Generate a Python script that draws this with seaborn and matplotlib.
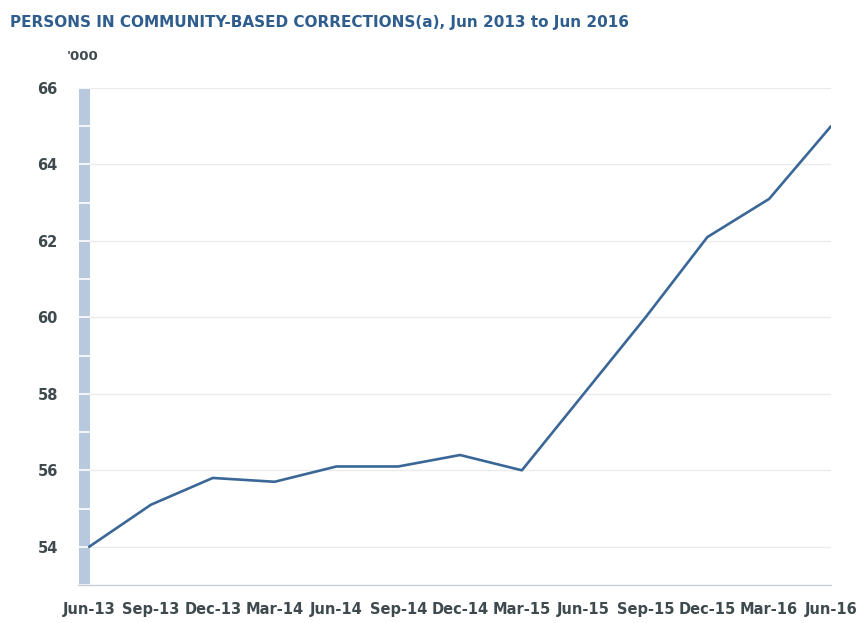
import matplotlib
matplotlib.use("Agg")
import matplotlib.pyplot as plt
import seaborn as sns
import pandas as pd
import numpy as np

# Quarterly persons in community-based corrections ('000)
quarters = ["Jun-13", "Sep-13", "Dec-13", "Mar-14", "Jun-14", "Sep-14", "Dec-14",
            "Mar-15", "Jun-15", "Sep-15", "Dec-15", "Mar-16", "Jun-16"]
persons = [54.0, 55.1, 55.8, 55.7, 56.1, 56.1, 56.4, 56.0, 58.0, 60.0, 62.1, 63.1, 65.0]
y_ticks = [54, 56, 58, 60, 62, 64, 66]

df = pd.DataFrame({"pos": np.arange(len(quarters)), "quarter": quarters, "persons": persons})

sns.set_theme(style="white")
plt.rcParams["font.family"] = ["DejaVu Sans"]

W, H, DPI = 861, 623, 100
fig = plt.figure(figsize=(W / DPI, H / DPI), dpi=DPI)
ax = fig.add_axes([78 / W, 1 - 585 / H, (831 - 78) / W, (585 - 88) / H])

line_col = "#3b6797"
text_col = "#3e4a4e"
grid_col = "#ebebeb"
axis_col = "#c9cfd6"

ax.set_ylim(53, 66)
ax.set_xlim(-0.18, 12.0)

# horizontal grid at labelled values
for v in y_ticks:
    ax.axhline(v, color=grid_col, lw=1.0, zorder=0)

# shaded band beside the value axis, broken by white lines at every unit
ax.axvspan(-0.165, 0.015, ymin=0, ymax=1, color="#b9c9dd", lw=0, zorder=1)
for v in range(53, 67):
    ax.plot([-0.165, 0.015], [v, v], color="white", lw=1.2, zorder=1.5,
            solid_capstyle="butt")

sns.lineplot(data=df, x="pos", y="persons", ax=ax, color=line_col, lw=1.9,
             zorder=3, legend=False)

# axes styling
for s in ["top", "right", "left"]:
    ax.spines[s].set_visible(False)
ax.spines["bottom"].set_color(axis_col)
ax.spines["bottom"].set_linewidth(1.0)

ax.set_yticks(y_ticks)
ax.set_yticklabels([str(v) for v in y_ticks])
ax.tick_params(axis="y", which="major", direction="out", length=8, width=1.0,
               color=axis_col, pad=6.5, labelsize=10.5, labelcolor=text_col)

ax.set_xticks(df["pos"])
ax.set_xticklabels(quarters)
ax.tick_params(axis="x", which="major", length=0, pad=12, labelsize=10.5,
               labelcolor=text_col)
ax.set_xticks(np.arange(0.5, 12, 1.0), minor=True)
ax.tick_params(axis="x", which="minor", direction="out", length=4.5, width=1.0,
               color=axis_col)
for lbl in ax.get_xticklabels() + ax.get_yticklabels():
    lbl.set_fontweight("bold")

ax.set_xlabel("")
ax.set_ylabel("")
ax.grid(False)

fig.text(10 / W, 1 - 22 / H,
         "PERSONS IN COMMUNITY-BASED CORRECTIONS(a), Jun 2013 to Jun 2016",
         ha="left", va="center", fontsize=11, fontweight="bold", color="#2e5d8e")
fig.text(67 / W, 1 - 56 / H, "'000", ha="left", va="center", fontsize=9.5,
         fontweight="bold", color=text_col)

fig.savefig("out.png", dpi=DPI, facecolor="white")
